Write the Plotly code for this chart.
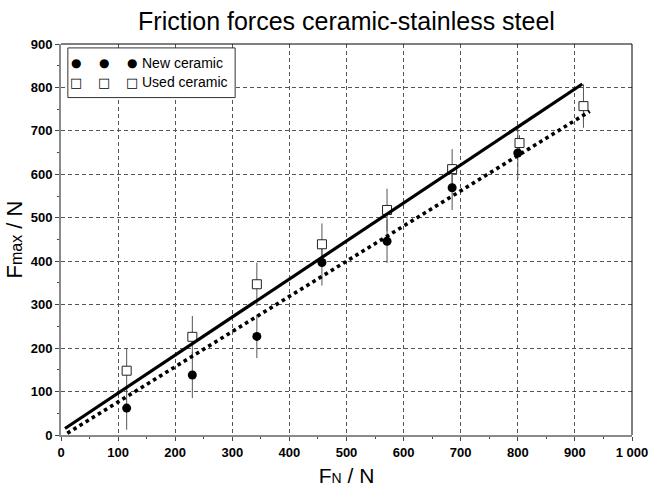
import plotly.graph_objects as go

# ---- data ----
x_new = [115, 230, 343, 457, 571, 685, 800]
y_new = [62, 138, 227, 397, 446, 569, 649]
err_new = [50, 53, 50, 53, 50, 51, 60]

x_used = [115, 230, 343, 457, 571, 685, 803, 915]
y_used = [148, 226, 347, 439, 518, 612, 672, 757]
err_used = [50, 48, 50, 48, 49, 46, 18, 50]

# fitted lines (end points)
x_fit_used = [7, 913]
y_fit_used = [15, 808]
x_fit_new = [11, 926]
y_fit_new = [4, 745]

x_tickvals = [0, 100, 200, 300, 400, 500, 600, 700, 800, 900, 1000]
x_ticktext = ["0", "100", "200", "300", "400", "500", "600", "700", "800", "900", "1 000"]
y_tickvals = [0, 100, 200, 300, 400, 500, 600, 700, 800, 900]
y_ticktext = ["0", "100", "200", "300", "400", "500", "600", "700", "800", "900"]

FONT = "Liberation Sans, Arial, sans-serif"

fig = go.Figure()

# error bars (drawn underneath markers)
fig.add_trace(go.Scatter(
    x=x_used, y=y_used, mode="markers",
    marker=dict(size=1, color="rgba(0,0,0,0)"),
    error_y=dict(type="data", array=err_used, color="#555555", thickness=1, width=0),
    showlegend=False, hoverinfo="skip"))
fig.add_trace(go.Scatter(
    x=x_new, y=y_new, mode="markers",
    marker=dict(size=1, color="rgba(0,0,0,0)"),
    error_y=dict(type="data", array=err_new, color="#555555", thickness=1, width=0),
    showlegend=False, hoverinfo="skip"))

# markers
fig.add_trace(go.Scatter(
    x=x_used, y=y_used, mode="markers", name="Used ceramic",
    marker=dict(symbol="square", size=9, color="white",
                line=dict(color="#222222", width=1)),
    showlegend=False))
fig.add_trace(go.Scatter(
    x=x_new, y=y_new, mode="markers", name="New ceramic",
    marker=dict(symbol="circle", size=9, color="black",
                line=dict(color="black", width=0)),
    showlegend=False))

# fit lines
fig.add_trace(go.Scatter(
    x=x_fit_used, y=y_fit_used, mode="lines",
    line=dict(color="black", width=3.2), showlegend=False, hoverinfo="skip"))
fig.add_trace(go.Scatter(
    x=x_fit_new, y=y_fit_new, mode="lines",
    line=dict(color="black", width=3.6, dash="dot"), showlegend=False, hoverinfo="skip"))

axis_common = dict(
    showline=True, linecolor="#8a8a8a", linewidth=2,
    ticks="outside", ticklen=4, tickwidth=1, tickcolor="#444444",
    tickfont=dict(family=FONT, size=13, color="black", weight="bold"),
    showgrid=True, gridcolor="#555555", gridwidth=1, griddash="4px,3px",
    zeroline=False, mirror=False, automargin=False,
)

fig.update_xaxes(
    range=[0, 1000], tickvals=x_tickvals, ticktext=x_ticktext,
    minor=dict(dtick=50, tick0=0, ticks="outside", ticklen=2, tickcolor="#444444", showgrid=False),
    title=dict(text="F<span style='font-size:14px'>N</span> / N",
               font=dict(family=FONT, size=21, color="black"), standoff=14),
    **axis_common)
fig.update_yaxes(
    range=[0, 900], tickvals=y_tickvals, ticktext=y_ticktext,
    minor=dict(dtick=50, tick0=0, ticks="outside", ticklen=2, tickcolor="#444444", showgrid=False),
    title=dict(text="F<span style='font-size:16px'>max</span> / N",
               font=dict(family=FONT, size=22, color="black"), standoff=2),
    **axis_common)

# top & right frame lines (black)
fig.add_shape(type="line", xref="paper", yref="paper", x0=0, x1=1, y0=1, y1=1,
              line=dict(color="black", width=1))
fig.add_shape(type="line", xref="paper", yref="paper", x0=1, x1=1, y0=0, y1=1,
              line=dict(color="black", width=1))

# custom legend (Origin style with three symbols)
fig.add_shape(type="rect", xref="paper", yref="paper",
              x0=0.012, x1=0.305, y0=0.863, y1=0.99,
              line=dict(color="#333333", width=1), fillcolor="white")
leg_y = [0.952, 0.902]
glyphs = ["\u25CF", "\u25A1"]
labels = ["New ceramic", "Used ceramic"]
glyph_x = [0.026, 0.075, 0.125]
for gy, gl, lab in zip(leg_y, glyphs, labels):
    for gx in glyph_x:
        fig.add_annotation(x=gx, y=gy, xref="paper", yref="paper", text=gl,
                           showarrow=False, xanchor="center", yanchor="middle",
                           font=dict(family="DejaVu Sans", size=12 if gl == "\u25CF" else 13,
                                     color="black"))
    fig.add_annotation(x=0.138, y=gy, xref="paper", yref="paper", text=lab,
                       showarrow=False, xanchor="left", yanchor="middle",
                       font=dict(family=FONT, size=14, color="black"))

fig.update_layout(
    width=650, height=487,
    margin=dict(l=61, r=18, t=44, b=52),
    paper_bgcolor="white", plot_bgcolor="white",
    title=dict(text="Friction forces ceramic-stainless steel",
               font=dict(family=FONT, size=25, color="black"),
               x=0.5, xref="paper", xanchor="center", y=0.956, yanchor="middle"),
    showlegend=False,
)

fig.write_html("out.html")
